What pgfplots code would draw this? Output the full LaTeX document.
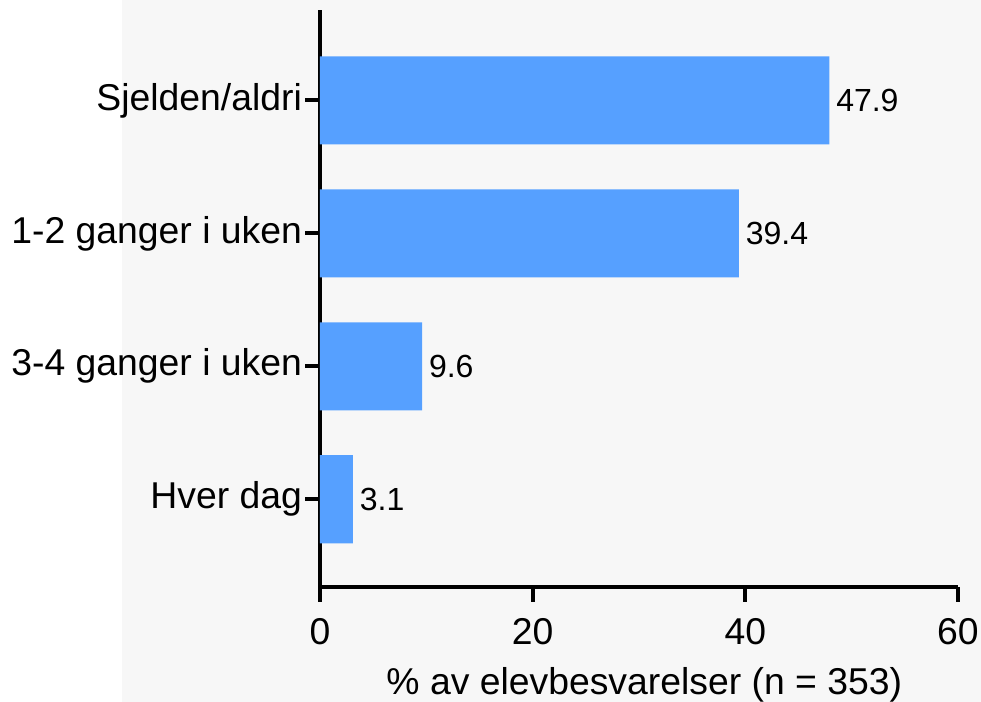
\documentclass[border=0pt]{standalone}
\usepackage{pgfplots}
\pgfplotsset{compat=1.18}
\usepackage{fontspec}
\setmainfont{Liberation Sans}
\definecolor{barblue}{RGB}{86,160,255}
\definecolor{bgg}{RGB}{247,247,247}
\begin{document}
\begin{tikzpicture}
\fill[bgg] (-148.5pt,-86.25pt) rectangle (495.75pt,440.25pt);
\begin{axis}[
  at={(0pt,0pt)}, anchor=south west,
  scale only axis, width=478.5pt, height=432.75pt,
  xmin=0, xmax=60, ymin=-0.66, ymax=3.68,
  xbar, bar width=66pt,
  axis lines*=left,
  separate axis lines,
  every outer x axis line/.append style={line width=2.9pt, black, -},
  every outer y axis line/.append style={line width=2.9pt, black, -},
  tick style={line width=2.9pt, black},
  major tick style={line width=2.9pt, black},
  major tick length=11pt,
  tick align=outside,
  xtick={0,20,40,60},
  ytick={0,1,2,3},
  yticklabels={Hver dag, 3-4 ganger i uken, 1-2 ganger i uken, Sjelden/aldri},
  ticklabel style={font=\fontsize{28}{33}\selectfont},
  xticklabel style={yshift=-9pt},
  yticklabel style={xshift=1pt},
  /pgf/number format/assume math mode=true,
  xlabel={\% av elevbesvarelser (n = 353)},
  xlabel style={font=\fontsize{28}{33}\selectfont, yshift=-10pt, xshift=4pt},
  clip=false,
  nodes near coords,
  nodes near coords style={font=\fontsize{24}{29}\selectfont, anchor=west, inner sep=0pt, xshift=5pt,
    /pgf/number format/fixed, /pgf/number format/precision=1, /pgf/number format/fixed zerofill},
]
\addplot[fill=barblue, draw=none] coordinates {(3.1,0) (9.6,1) (39.4,2) (47.9,3)};
\end{axis}
\pgfresetboundingbox
\useasboundingbox (-240pt,-86.25pt) rectangle (495.75pt,440.25pt);
\end{tikzpicture}
\end{document}
